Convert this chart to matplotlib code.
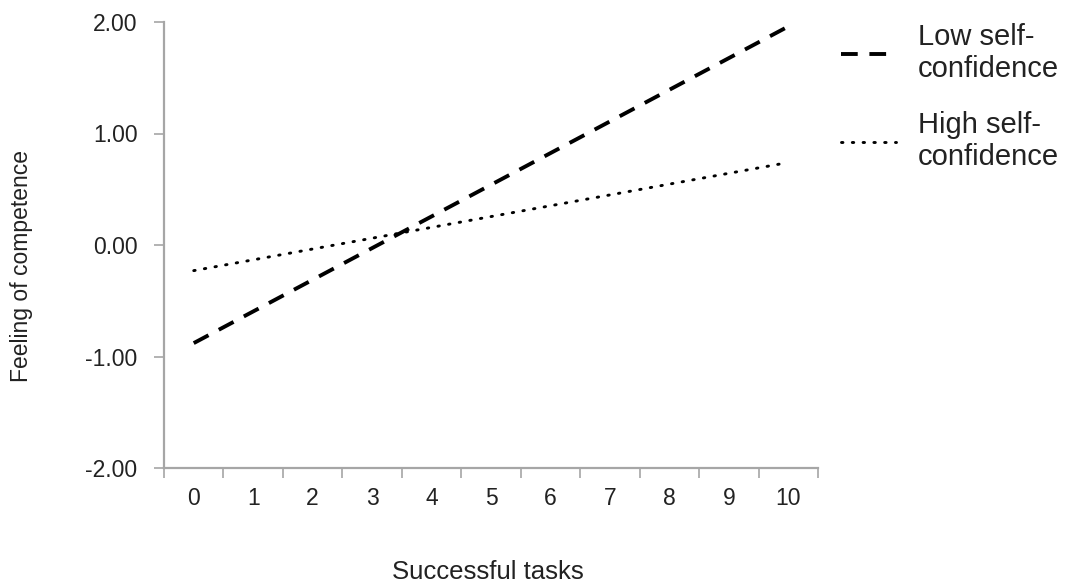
import numpy as np
import matplotlib
matplotlib.use("Agg")
import matplotlib.pyplot as plt
from matplotlib.lines import Line2D

# Data
tasks = list(range(0, 11))
low_ends = [-0.88, 1.96]    # Low self-confidence, at 0 and 10 successful tasks
high_ends = [-0.23, 0.74]   # High self-confidence, at 0 and 10 successful tasks
yticks = [-2.0, -1.0, 0.0, 1.0, 2.0]

SANS = ['Liberation Sans', 'DejaVu Sans']
AXIS_GREY = '#a6a6a6'
TEXT = '#222222'

LOW_STYLE = dict(color='black', linewidth=2.8, linestyle=(0, (4.3, 3.0)))
HIGH_STYLE = dict(color='black', linewidth=2.1, linestyle=(0, (0.5, 3.2)),
                  dash_capstyle='round')

fig = plt.figure(figsize=(10.71, 5.84), dpi=100)
ax = fig.add_axes([164 / 1071, 1 - 468 / 584, (818 - 164) / 1071, (468 - 22) / 584])

x_ends = [tasks[0], tasks[-1]]
ax.plot(x_ends, low_ends, **LOW_STYLE)
ax.plot(x_ends, high_ends, **HIGH_STYLE)

ax.set_xlim(-0.5, 10.5)
ax.set_ylim(-2.0, 2.0)

# Category axis: labels at centres, tick marks between categories
ax.set_xticks(tasks)
ax.set_xticklabels([str(t) for t in tasks], family=SANS, fontsize=16.5, color=TEXT)
ax.set_xticks(np.arange(-0.5, 11, 1.0), minor=True)
ax.tick_params(axis='x', which='major', length=0, pad=14)
ax.tick_params(axis='x', which='minor', length=7, width=1.2, color=AXIS_GREY, direction='out')

ax.set_yticks(yticks)
ax.set_yticklabels([f"{v:.2f}" for v in yticks], family=SANS, fontsize=16.5, color=TEXT)
ax.tick_params(axis='y', length=7, width=1.2, color=AXIS_GREY, direction='out', pad=12)

for side in ['top', 'right']:
    ax.spines[side].set_visible(False)
for side in ['left', 'bottom']:
    ax.spines[side].set_color(AXIS_GREY)
    ax.spines[side].set_linewidth(1.6)

fig.text(488 / 1071, 1 - 572 / 584, "Successful tasks", family=SANS, fontsize=18.5,
         color=TEXT, ha='center', va='center')
fig.text(22 / 1071, 1 - 266 / 584, "Feeling of competence", family=SANS, fontsize=16.5,
         color=TEXT, ha='center', va='center', rotation=90)

handles = [Line2D([0], [0], **LOW_STYLE), Line2D([0], [0], **HIGH_STYLE)]
leg = fig.legend(handles, ["Low self-\nconfidence", "High self-\nconfidence"],
                 loc='upper left', bbox_to_anchor=(826 / 1071, 1 - 8 / 584),
                 frameon=False, borderpad=0, handlelength=1.9, handletextpad=0.75,
                 labelspacing=0.95, prop={'family': SANS, 'size': 21})
for t in leg.get_texts():
    t.set_color(TEXT)
    t.set_linespacing(1.2)

fig.savefig("out.png", dpi=100)
